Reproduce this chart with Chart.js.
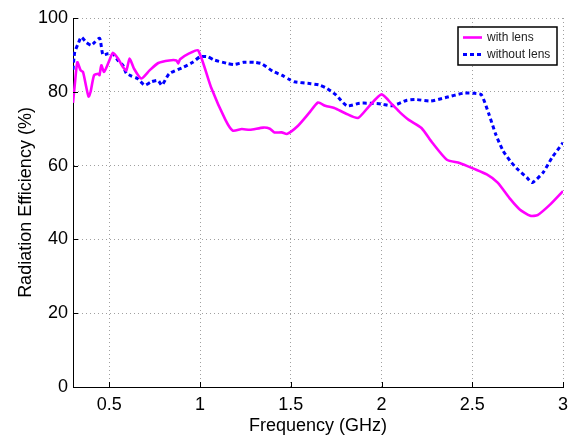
<!DOCTYPE html>
<html>
<head>
<meta charset="utf-8">
<script src="https://cdn.jsdelivr.net/npm/chart.js@4.4.0/dist/chart.umd.min.js"></script>
<style>
html,body{margin:0;padding:0;background:#fff;}
#wrap{width:581px;height:437px;position:relative;}
</style>
</head>
<body>
<div id="wrap"><canvas id="c" width="581" height="437"></canvas></div>
<script>
// ---- data ----
const seriesNames = ['with lens', 'without lens'];
const xTickValues = [0.5, 1, 1.5, 2, 2.5, 3];
const yTickValues = [0, 20, 40, 60, 80, 100];

const withLensFreq = [0.300,0.310,0.324,0.342,0.355,0.373,0.386,0.397,0.416,0.438,0.446,0.456,0.471,0.497,0.520,0.548,0.575,0.594,0.612,0.636,0.676,0.722,0.770,0.830,0.870,0.880,0.890,0.940,0.990,1.060,1.140,1.180,1.230,1.275,1.348,1.385,1.410,1.450,1.480,1.540,1.600,1.650,1.690,1.740,1.800,1.870,1.930,2.000,2.060,2.100,2.150,2.220,2.280,2.360,2.430,2.510,2.580,2.640,2.710,2.760,2.820,2.860,2.930,3.000];
const withLensEff = [77,82,88,85.8,85.4,81.3,78.7,80,84.5,84.9,84.5,87.2,85.4,88.1,90.6,89,86.7,85.8,89,86.3,83.6,85.8,87.8,88.5,88.5,87.7,88.8,90.4,91.2,81.3,72.4,69.5,69.9,69.7,70.3,70,69,69,68.6,70.8,74.2,77.1,76.2,75.6,74.2,72.9,76,79.3,76.5,74.5,72.4,70.2,66.2,61.6,60.7,59.1,57.6,55.4,50.9,48.2,46.4,46.6,49.5,53.1];

const withoutLensFreq = [0.300,0.305,0.310,0.328,0.346,0.373,0.400,0.419,0.447,0.465,0.490,0.520,0.548,0.575,0.594,0.621,0.655,0.695,0.731,0.768,0.790,0.830,0.910,0.960,1.000,1.040,1.080,1.150,1.190,1.240,1.300,1.340,1.400,1.450,1.490,1.520,1.610,1.660,1.700,1.750,1.810,1.880,1.940,2.000,2.060,2.140,2.190,2.270,2.350,2.450,2.510,2.550,2.590,2.630,2.670,2.710,2.750,2.800,2.830,2.890,2.940,3.000];
const withoutLensEff = [86,89,90.8,93,94.8,93.4,92.6,93.4,94.5,90,90.3,90.3,88.5,87.2,85,84.3,83.6,81.8,82.7,83.1,81.8,84.9,86.7,88,89.5,89.5,88.6,87.7,87.4,88,88,87.6,85.6,84.5,83.4,82.7,82.2,81.8,80.9,79.1,76.2,76.9,76.9,76.7,76.2,77.7,77.9,77.5,78.4,79.6,79.6,79.2,74.2,68.4,64,61.2,59,56.8,55.4,58.1,62.2,66.2];

const toPts = (xs, ys) => xs.map((x, i) => ({x: x, y: ys[i]}));

const FONT = '"Liberation Sans", Arial, Helvetica, sans-serif';

// inward ticks (MATLAB style)
const inwardTicks = {
  id: 'inwardTicks',
  afterDatasetsDraw(chart) {
    const ctx = chart.ctx, xs = chart.scales.x, ys = chart.scales.y;
    const a = chart.chartArea;
    ctx.save();
    ctx.strokeStyle = '#000';
    ctx.lineWidth = 1;
    ctx.beginPath();
    xTickValues.forEach(v => {
      const px = Math.round(xs.getPixelForValue(v)) + 0.5;
      ctx.moveTo(px, a.bottom); ctx.lineTo(px, a.bottom - 5);
    });
    yTickValues.forEach(v => {
      const py = Math.round(ys.getPixelForValue(v)) + 0.5;
      ctx.moveTo(a.left, py); ctx.lineTo(a.left + 5, py);
    });
    ctx.stroke();
    ctx.restore();
  }
};

// boxed legend in the top right corner
const boxLegend = {
  id: 'boxLegend',
  afterDraw(chart) {
    const ctx = chart.ctx;
    const ds = chart.data.datasets;
    const x0 = 458, y0 = 27, w = 99, h = 38;
    ctx.save();
    ctx.fillStyle = '#fff';
    ctx.fillRect(x0, y0, w, h);
    ctx.strokeStyle = '#000';
    ctx.lineWidth = 1.5;
    ctx.strokeRect(x0, y0, w, h);
    ctx.font = '12px ' + FONT;
    ctx.textBaseline = 'middle';
    ctx.fillStyle = '#222';
    ds.forEach((d, i) => {
      const y = y0 + 10.5 + i * 17;
      ctx.beginPath();
      ctx.strokeStyle = d.borderColor;
      ctx.lineWidth = d.borderWidth;
      ctx.setLineDash(d.borderDash || []);
      ctx.moveTo(x0 + 5, y); ctx.lineTo(x0 + 24, y);
      ctx.stroke();
      ctx.setLineDash([]);
      ctx.fillText(d.label, x0 + 29, y + 0.5);
    });
    ctx.restore();
  }
};

new Chart(document.getElementById('c'), {
  type: 'line',
  data: {
    datasets: [
      {
        label: seriesNames[0],
        data: toPts(withLensFreq, withLensEff),
        borderColor: '#ff00ff',
        borderWidth: 2.6,
        pointRadius: 0,
        tension: 0.2,
        fill: false
      },
      {
        label: seriesNames[1],
        data: toPts(withoutLensFreq, withoutLensEff),
        borderColor: '#0000ff',
        borderWidth: 3,
        borderDash: [4, 3],
        pointRadius: 0,
        tension: 0.2,
        fill: false
      }
    ]
  },
  options: {
    responsive: false,
    animation: false,
    devicePixelRatio: 1,
    layout: { padding: { top: 18, right: 18, left: 0, bottom: 0 } },
    plugins: {
      legend: { display: false },
      tooltip: { enabled: false }
    },
    scales: {
      x: {
        type: 'linear',
        min: 0.3,
        max: 3,
        afterBuildTicks: s => { s.ticks = xTickValues.map(v => ({value: v})); },
        afterFit: s => { s.height = 50; },
        ticks: {
          font: { family: FONT, size: 18 },
          color: '#000',
          padding: 7,
          maxRotation: 0,
          callback: v => String(v)
        },
        grid: { color: '#a0a0a0', lineWidth: 1, drawTicks: false },
        border: { display: true, color: '#000', width: 1, dash: [1, 3] },
        title: {
          display: true,
          text: 'Frequency (GHz)',
          font: { family: FONT, size: 18 },
          color: '#000',
          padding: { top: 0, bottom: 0 }
        }
      },
      y: {
        min: 0,
        max: 100,
        afterBuildTicks: s => { s.ticks = yTickValues.map(v => ({value: v})); },
        afterFit: s => { s.width = 73; },
        ticks: {
          font: { family: FONT, size: 18 },
          color: '#000',
          padding: 5
        },
        grid: { color: '#a0a0a0', lineWidth: 1, drawTicks: false },
        border: { display: true, color: '#000', width: 1, dash: [1, 3] },
        title: {
          display: true,
          text: 'Radiation Efficiency (%)',
          font: { family: FONT, size: 18 },
          color: '#000',
          padding: { top: 15, bottom: 0 }
        }
      }
    }
  },
  plugins: [inwardTicks, boxLegend]
});
</script>
</body>
</html>
